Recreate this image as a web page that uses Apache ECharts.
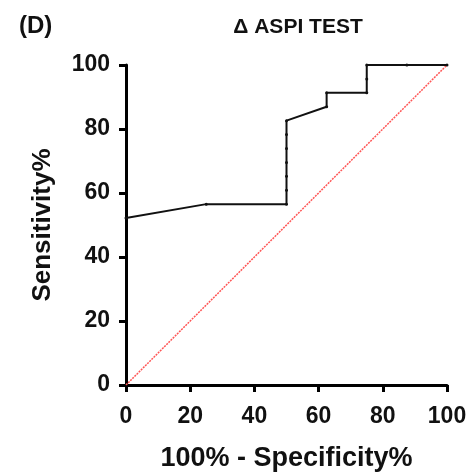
<!DOCTYPE html>
<html>
<head>
<meta charset="utf-8">
<script src="https://cdn.jsdelivr.net/npm/echarts@6/dist/echarts.min.js"></script>
<style>
  html, body { margin: 0; padding: 0; background: #fff; }
  #chart { width: 473px; height: 473px; }
</style>
</head>
<body>
<div id="chart"></div>
<script>
// ROC curve points
var specPct = [0, 25, 50, 50, 50, 50, 50, 50, 50, 62.5, 62.5, 75, 75, 75, 87.5, 100];
var sensPct = [52.17, 56.52, 56.52, 60.87, 65.22, 69.57, 73.91, 78.26, 82.61, 86.96, 91.30, 91.30, 95.65, 100, 100, 100];
// line of identity
var refX = [0, 100];
var refY = [0, 100];
var ticks = [0, 20, 40, 60, 80, 100];

var font = '"Liberation Sans", Arial, sans-serif';

var chart = echarts.init(document.getElementById('chart'));

var rocData = specPct.map(function (x, i) { return [x, sensPct[i]]; });
var refData = refX.map(function (x, i) { return [x, refY[i]]; });

var axisCommon = {
    type: 'value',
    min: ticks[0],
    max: ticks[ticks.length - 1],
    interval: 20,
    axisLine: { show: true, lineStyle: { color: '#000', width: 3 } },
    axisTick: { show: true, length: 7, lineStyle: { color: '#000', width: 3 } },
    splitLine: { show: false },
    nameLocation: 'middle',
    nameTextStyle: { color: '#111', fontFamily: font, fontWeight: 'bold', fontSize: 26 }
};

var option = {
    animation: false,
    backgroundColor: '#fff',
    grid: { left: 126, right: 26, top: 65, bottom: 88, outerBoundsMode: 'none', containLabel: false },
    title: [
        {
            text: '(D)',
            left: 14, top: 9,
            textStyle: { color: '#111', fontFamily: font, fontWeight: 'bold', fontSize: 24 }
        },
        {
            text: 'Δ ASPI TEST',
            left: 293, top: 12, textAlign: 'center',
            textStyle: { color: '#111', fontFamily: font, fontWeight: 'bold', fontSize: 21 }
        }
    ],
    xAxis: Object.assign({}, axisCommon, {
        name: '100% - Specificity%',
        nameGap: 60,
        nameTextStyle: { color: '#111', fontFamily: font, fontWeight: 'bold', fontSize: 27 },
        axisLabel: { color: '#111', fontFamily: font, fontWeight: 'bold', fontSize: 23, margin: 20 }
    }),
    yAxis: Object.assign({}, axisCommon, {
        name: 'Sensitivity%',
        nameGap: 70,
        axisLabel: { color: '#111', fontFamily: font, fontWeight: 'bold', fontSize: 23, margin: 16 }
    }),
    series: [
        {
            type: 'line',
            data: refData,
            symbol: 'none',
            lineStyle: { color: '#ff5555', width: 1.5, type: [2, 1] },
            z: 1
        },
        {
            type: 'line',
            data: rocData,
            symbol: 'circle',
            symbolSize: 3,
            itemStyle: { color: '#111' },
            lineStyle: { color: '#111', width: 2 },
            z: 2
        }
    ]
};

chart.setOption(option);
</script>
</body>
</html>
